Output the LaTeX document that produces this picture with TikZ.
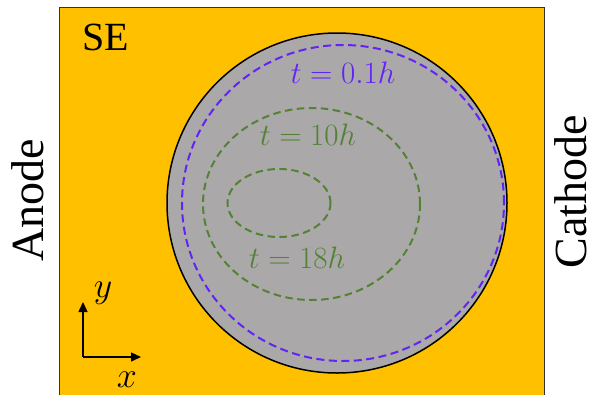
\RequirePackage{fix-cm}
\documentclass[tikz,border=0pt]{standalone}
\usepackage{fontspec}
\setmainfont{Liberation Serif}
\usetikzlibrary{arrows.meta}
\definecolor{seorange}{RGB}{255,192,0}
\definecolor{partgray}{RGB}{170,168,169}
\definecolor{tblue}{RGB}{98,36,246}
\definecolor{tgreen}{RGB}{84,130,53}
\tikzset{
  bluedash/.style={draw=tblue, line width=2pt, dash pattern=on 8pt off 4.5pt},
  greendash/.style={draw=tgreen, line width=2pt, dash pattern=on 7.5pt off 4.5pt},
  tlabel/.style={font=\fontsize{31}{36}\selectfont, inner sep=0pt, anchor=base},
  biglabel/.style={font=\fontsize{46}{52}\selectfont, inner sep=0pt},
  axlabel/.style={font=\fontsize{36}{40}\selectfont, inner sep=0pt},
  axarrow/.style={line width=1.5pt, -{Triangle[length=10pt,width=9pt]}}
}
\begin{document}
\begin{tikzpicture}[x=1pt,y=-1pt]
\useasboundingbox (0,0) rectangle (594,394);
\fill[white] (0,0) rectangle (594,394);
\filldraw[fill=seorange, draw=black!80, line width=1pt] (59,7.5) rectangle (544,400);
\filldraw[fill=partgray, draw=black, line width=1.5pt] (337,203) circle[radius=170pt];
\draw[bluedash] (343,203) ellipse[x radius=161pt, y radius=158pt];
\draw[greendash] (311.5,204) ellipse[x radius=108.5pt, y radius=96pt];
\draw[greendash] (279,203) ellipse[x radius=51.5pt, y radius=34pt];
\node[tlabel, text=tblue] (l1) at (343,83) {$t=0.1h$};
\node[tlabel, text=tgreen] (l2) at (308,145) {$t=10h$};
\node[tlabel, text=tgreen] (l3) at (297,268) {$t=18h$};
\node[font=\fontsize{40}{44}\selectfont, inner sep=0pt, anchor=base west] (se) at (82,50) {SE};
\node[biglabel, rotate=90] (anode) at (28,200) {Anode};
\node[biglabel, rotate=90] (cathode) at (571,192) {Cathode};
\coordinate (o) at (83,357);
\coordinate (xe) at (141,357);
\coordinate (ye) at (83,302);
\draw[axarrow] (o) -- (xe);
\draw[axarrow] (o) -- (ye);
\node[axlabel] (ylab) at (103,293) {$y$};
\node[axlabel] (xlab) at (127,380) {$x$};
\end{tikzpicture}
\end{document}
